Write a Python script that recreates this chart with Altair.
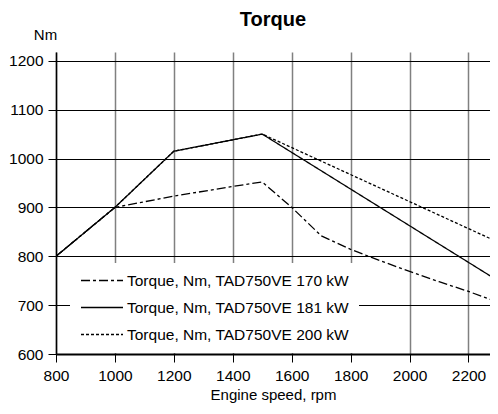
import altair as alt
import pandas as pd

series_names = [
    "Torque, Nm, TAD750VE 170 kW",
    "Torque, Nm, TAD750VE 181 kW",
    "Torque, Nm, TAD750VE 200 kW",
]
rpm_170 = [800, 1000, 1200, 1400, 1500, 1600, 1700, 1800, 1900, 2000, 2100, 2200, 2300]
torque_170 = [800, 900, 923, 943, 952, 900, 842, 814, 791, 769, 748, 728, 706]
rpm_181 = [800, 1000, 1200, 1500, 2300]
torque_181 = [800, 900, 1015, 1050, 750]
rpm_200 = [800, 1000, 1200, 1500, 2300]
torque_200 = [800, 900, 1015, 1050, 829]

x_ticks = [800, 1000, 1200, 1400, 1600, 1800, 2000, 2200]
y_ticks = [600, 700, 800, 900, 1000, 1100, 1200]

rows = []
for name, rpms, vals in zip(series_names, [rpm_170, rpm_181, rpm_200], [torque_170, torque_181, torque_200]):
    for i, (r, v) in enumerate(zip(rpms, vals)):
        rows.append({"series": name, "rpm": r, "torque": v, "idx": i})
df = pd.DataFrame(rows)

font = "Liberation Sans"

chart = alt.Chart(df).mark_line(strokeWidth=1.3, color="black", clip=True).encode(
    x=alt.X(
        "rpm:Q",
        scale=alt.Scale(domain=[800, 2273], nice=False, zero=False),
        axis=alt.Axis(
            values=x_ticks, format="d", title="Engine speed, rpm", grid=True, gridColor="#808080", gridWidth=1.5,
            domainColor="black", domainWidth=2, tickColor="black", tickSize=8, tickWidth=1,
            labelFont=font, labelFontSize=15.5, labelColor="black", labelPadding=6, labelFlush=False,
            titleFont=font, titleFontSize=15, titleFontWeight="normal", titleColor="black", titlePadding=4,
        ),
    ),
    y=alt.Y(
        "torque:Q",
        scale=alt.Scale(domain=[600, 1218], nice=False, zero=False),
        axis=alt.Axis(
            values=y_ticks, format="d", title="Nm", grid=True, gridColor="black", gridWidth=1,
            domainColor="black", domainWidth=1.5, tickColor="black", tickSize=8, tickWidth=1,
            labelFont=font, labelFontSize=15.5, labelColor="black", labelPadding=5, labelFlush=False,
            titleFont=font, titleFontSize=15, titleFontWeight="normal", titleColor="black",
            titleAngle=0, titleAlign="center", titleBaseline="middle", titleX=-11, titleY=-18,
        ),
    ),
    strokeDash=alt.StrokeDash(
        "series:N",
        scale=alt.Scale(domain=series_names, range=[[9, 3, 3, 3], [1, 0], [3, 2]]),
        legend=alt.Legend(
            title=None, orient="none", legendX=14, legendY=211, fillColor="white", padding=10,
            symbolType="stroke", symbolSize=1764, symbolStrokeWidth=1.3, symbolStrokeColor="black",
            labelFont=font, labelFontSize=15.5, labelColor="black", labelOffset=3, rowPadding=11,
            labelLimit=0, clipHeight=15,
        ),
    ),
    order="idx:Q",
).properties(
    width=434,
    height=302,
    title=alt.TitleParams(
        "Torque", font=font, fontSize=20, fontWeight="bold", color="black",
        anchor="middle", offset=-3, dx=0,
    ),
    autosize=alt.AutoSizeParams(type="none"),
    padding={"left": 48, "top": 44, "right": 0, "bottom": 52},
).configure_view(stroke=None)

chart.save("out.html", embed_options={"renderer": "svg", "actions": False})
